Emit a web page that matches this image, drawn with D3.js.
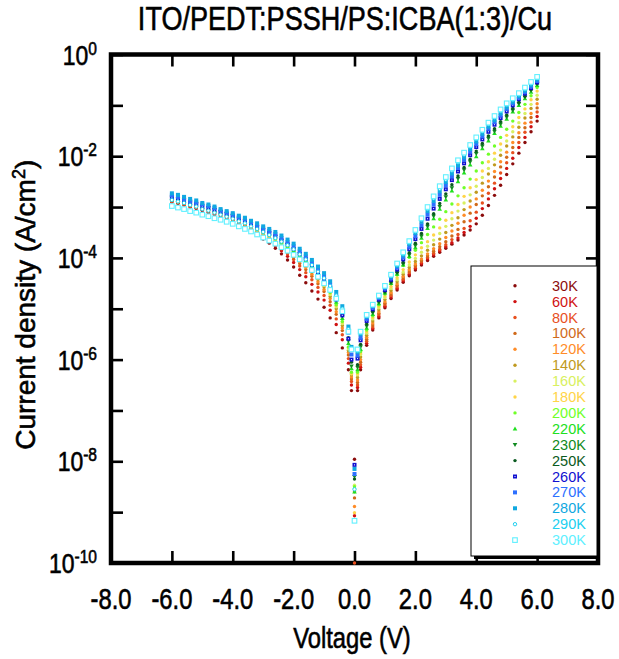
<!DOCTYPE html>
<html>
<head>
<meta charset="utf-8">
<script src="https://cdn.jsdelivr.net/npm/d3@7"></script>
<style>
  body { margin: 0; background: #fff; }
  svg text { font-family: "Liberation Sans", Arial, Helvetica, sans-serif; fill: #000; }
  svg text.label { stroke: #000; stroke-width: 0.6px; }
</style>
</head>
<body>
<svg id="chart" width="619" height="659"></svg>
<script>
// Voltage steps (V): reverse branch, zero bias, forward branch
const voltage = [
  -6.0, -5.8, -5.6, -5.4, -5.2, -5.0, -4.8, -4.6, -4.4, -4.2, -4.0, -3.8, -3.6, -3.4, -3.2,
  -3.0, -2.8, -2.6, -2.4, -2.2, -2.0, -1.8, -1.6, -1.4, -1.2, -1.0, -0.8, -0.6, -0.4, -0.2, -0.1,
  0.0,
  0.1, 0.2, 0.4, 0.6, 0.8, 1.0, 1.2, 1.4, 1.6, 1.8, 2.0, 2.2, 2.4, 2.6, 2.8,
  3.0, 3.2, 3.4, 3.6, 3.8, 4.0, 4.2, 4.4, 4.6, 4.8, 5.0, 5.2, 5.4, 5.6, 5.8, 6.0
];

const temperatures = ["30K", "60K", "80K", "100K", "120K", "140K", "160K", "180K", "200K",
  "220K", "230K", "250K", "260K", "270K", "280K", "290K", "300K"];

// log10 of current density (A/cm2), same order as voltage
const logJ_30K = [-2.90,-2.93,-2.96,-3.00,-3.03,-3.07,-3.11,-3.15,-3.20,-3.24,-3.29,-3.35,-3.41,-3.48,-3.55,-3.63,-3.71,-3.81,-3.92,-4.04,-4.18,-4.34,-4.49,-4.65,-4.81,-4.97,-5.18,-5.47,-5.77,-6.20,-6.61,
  -7.96,
  -6.61,-6.20,-5.72,-5.42,-5.18,-4.98,-4.80,-4.63,-4.48,-4.35,-4.24,-4.14,-4.05,-3.97,-3.89,-3.81,-3.73,-3.65,-3.55,-3.45,-3.33,-3.16,-2.97,-2.77,-2.57,-2.36,-2.15,-1.94,-1.73,-1.52,-1.31];
const logJ_60K = [-2.89,-2.92,-2.95,-2.99,-3.02,-3.06,-3.10,-3.14,-3.18,-3.22,-3.27,-3.33,-3.38,-3.45,-3.52,-3.59,-3.66,-3.76,-3.86,-3.97,-4.09,-4.23,-4.37,-4.52,-4.67,-4.83,-5.03,-5.31,-5.61,-6.07,-6.50,
  -9.07,
  -6.55,-6.15,-5.68,-5.39,-5.15,-4.95,-4.77,-4.60,-4.45,-4.32,-4.21,-4.11,-4.02,-3.94,-3.86,-3.78,-3.70,-3.61,-3.50,-3.38,-3.22,-3.03,-2.84,-2.64,-2.44,-2.24,-2.04,-1.83,-1.63,-1.42,-1.22];
const logJ_80K = [-2.88,-2.91,-2.94,-2.98,-3.01,-3.05,-3.09,-3.13,-3.17,-3.21,-3.26,-3.31,-3.37,-3.43,-3.50,-3.57,-3.64,-3.72,-3.82,-3.92,-4.03,-4.16,-4.29,-4.43,-4.58,-4.74,-4.93,-5.20,-5.51,-5.98,-6.43,
  -10.0,
  -6.50,-6.10,-5.64,-5.36,-5.12,-4.92,-4.74,-4.57,-4.42,-4.29,-4.18,-4.08,-3.99,-3.91,-3.83,-3.74,-3.64,-3.54,-3.42,-3.27,-3.10,-2.92,-2.73,-2.53,-2.33,-2.13,-1.93,-1.73,-1.53,-1.33,-1.13];
const logJ_100K = [-2.87,-2.90,-2.93,-2.97,-3.00,-3.04,-3.08,-3.12,-3.16,-3.20,-3.24,-3.30,-3.35,-3.42,-3.48,-3.55,-3.61,-3.69,-3.78,-3.88,-3.99,-4.11,-4.23,-4.36,-4.51,-4.66,-4.86,-5.11,-5.43,-5.91,-6.38,
  -8.72,
  -6.45,-6.05,-5.60,-5.32,-5.09,-4.89,-4.71,-4.54,-4.39,-4.26,-4.15,-4.05,-3.96,-3.87,-3.78,-3.68,-3.57,-3.44,-3.29,-3.12,-2.95,-2.78,-2.60,-2.41,-2.21,-2.02,-1.83,-1.63,-1.44,-1.24,-1.05];
const logJ_120K = [-2.87,-2.90,-2.93,-2.97,-3.00,-3.04,-3.07,-3.11,-3.15,-3.20,-3.24,-3.29,-3.34,-3.40,-3.47,-3.53,-3.60,-3.67,-3.76,-3.85,-3.96,-4.07,-4.19,-4.32,-4.47,-4.62,-4.80,-5.06,-5.38,-5.86,-6.34,
  -8.89,
  -6.40,-6.00,-5.56,-5.28,-5.06,-4.86,-4.68,-4.51,-4.36,-4.23,-4.12,-4.02,-3.92,-3.82,-3.72,-3.60,-3.47,-3.32,-3.16,-3.00,-2.84,-2.67,-2.49,-2.30,-2.11,-1.92,-1.73,-1.54,-1.35,-1.16,-0.97];
const logJ_140K = [-2.87,-2.90,-2.93,-2.97,-3.00,-3.04,-3.07,-3.11,-3.15,-3.19,-3.23,-3.28,-3.33,-3.39,-3.46,-3.52,-3.58,-3.66,-3.74,-3.83,-3.93,-4.03,-4.15,-4.28,-4.42,-4.57,-4.76,-5.00,-5.33,-5.82,-6.30,
  -8.60,
  -6.35,-5.95,-5.52,-5.24,-5.02,-4.82,-4.64,-4.47,-4.32,-4.19,-4.07,-3.96,-3.85,-3.74,-3.63,-3.50,-3.36,-3.21,-3.05,-2.88,-2.71,-2.53,-2.35,-2.17,-1.98,-1.80,-1.62,-1.43,-1.25,-1.06,-0.88];
const logJ_160K = [-2.86,-2.89,-2.92,-2.96,-2.99,-3.03,-3.06,-3.10,-3.14,-3.18,-3.22,-3.27,-3.33,-3.39,-3.45,-3.51,-3.57,-3.64,-3.72,-3.81,-3.90,-4.01,-4.12,-4.25,-4.39,-4.54,-4.72,-4.96,-5.29,-5.79,-6.28,
  -8.47,
  -6.30,-5.90,-5.48,-5.20,-4.98,-4.78,-4.60,-4.43,-4.28,-4.14,-4.01,-3.89,-3.77,-3.65,-3.52,-3.38,-3.23,-3.08,-2.92,-2.76,-2.59,-2.42,-2.24,-2.06,-1.88,-1.70,-1.52,-1.34,-1.16,-0.98,-0.80];
const logJ_180K = [-2.86,-2.89,-2.92,-2.96,-2.99,-3.03,-3.06,-3.10,-3.14,-3.18,-3.22,-3.27,-3.32,-3.38,-3.44,-3.50,-3.57,-3.63,-3.71,-3.80,-3.89,-3.99,-4.10,-4.22,-4.36,-4.51,-4.69,-4.93,-5.26,-5.76,-6.27,
  -9.01,
  -6.28,-5.87,-5.45,-5.17,-4.95,-4.75,-4.56,-4.39,-4.23,-4.08,-3.94,-3.80,-3.68,-3.55,-3.41,-3.26,-3.11,-2.95,-2.79,-2.62,-2.46,-2.29,-2.11,-1.94,-1.76,-1.59,-1.42,-1.24,-1.07,-0.89,-0.72];
const logJ_200K = [-2.86,-2.89,-2.92,-2.96,-2.99,-3.03,-3.06,-3.10,-3.14,-3.18,-3.22,-3.27,-3.32,-3.38,-3.44,-3.50,-3.56,-3.63,-3.71,-3.79,-3.88,-3.98,-4.09,-4.21,-4.35,-4.50,-4.68,-4.92,-5.25,-5.75,-6.25,
  -8.50,
  -6.25,-5.84,-5.42,-5.14,-4.92,-4.71,-4.51,-4.33,-4.15,-3.99,-3.85,-3.70,-3.54,-3.39,-3.24,-3.09,-2.94,-2.78,-2.62,-2.45,-2.29,-2.13,-1.96,-1.80,-1.63,-1.47,-1.31,-1.14,-0.98,-0.81,-0.65];
const logJ_220K = [-2.83,-2.86,-2.89,-2.93,-2.96,-3.00,-3.03,-3.07,-3.11,-3.15,-3.19,-3.24,-3.29,-3.35,-3.41,-3.47,-3.53,-3.60,-3.68,-3.76,-3.85,-3.95,-4.05,-4.17,-4.31,-4.46,-4.63,-4.87,-5.19,-5.68,-6.18,
  -8.60,
  -6.20,-5.80,-5.38,-5.11,-4.90,-4.69,-4.50,-4.32,-4.14,-3.97,-3.80,-3.61,-3.42,-3.23,-3.04,-2.86,-2.68,-2.50,-2.33,-2.17,-2.01,-1.85,-1.70,-1.55,-1.41,-1.27,-1.13,-1.00,-0.87,-0.74,-0.61];
const logJ_230K = [-2.81,-2.84,-2.87,-2.91,-2.94,-2.98,-3.01,-3.05,-3.09,-3.13,-3.17,-3.22,-3.27,-3.33,-3.39,-3.45,-3.51,-3.58,-3.66,-3.74,-3.83,-3.92,-4.03,-4.15,-4.28,-4.43,-4.60,-4.83,-5.15,-5.63,-6.13,
  -8.30,
  -6.15,-5.75,-5.34,-5.08,-4.88,-4.68,-4.49,-4.30,-4.12,-3.94,-3.76,-3.57,-3.38,-3.18,-2.99,-2.80,-2.62,-2.44,-2.27,-2.11,-1.95,-1.80,-1.65,-1.51,-1.37,-1.23,-1.10,-0.97,-0.84,-0.71,-0.58];
const logJ_250K = [-2.79,-2.82,-2.85,-2.89,-2.92,-2.96,-2.99,-3.03,-3.07,-3.11,-3.15,-3.20,-3.25,-3.31,-3.37,-3.43,-3.49,-3.55,-3.63,-3.71,-3.80,-3.89,-3.99,-4.11,-4.24,-4.38,-4.55,-4.78,-5.10,-5.57,-6.05,
  -8.35,
  -6.10,-5.70,-5.30,-5.05,-4.85,-4.66,-4.47,-4.28,-4.09,-3.90,-3.71,-3.52,-3.33,-3.13,-2.93,-2.74,-2.56,-2.39,-2.22,-2.06,-1.90,-1.75,-1.60,-1.46,-1.32,-1.19,-1.06,-0.94,-0.82,-0.69,-0.57];
const logJ_260K = [-2.81,-2.84,-2.87,-2.91,-2.94,-2.99,-3.02,-3.06,-3.10,-3.14,-3.18,-3.23,-3.28,-3.34,-3.39,-3.45,-3.51,-3.57,-3.65,-3.73,-3.82,-3.92,-4.02,-4.14,-4.28,-4.42,-4.59,-4.82,-5.13,-5.59,-6.00,
  -8.07,
  -5.98,-5.62,-5.24,-5.01,-4.82,-4.63,-4.43,-4.23,-4.03,-3.83,-3.63,-3.43,-3.23,-3.03,-2.84,-2.65,-2.47,-2.30,-2.14,-1.98,-1.82,-1.67,-1.52,-1.38,-1.25,-1.12,-1.00,-0.88,-0.77,-0.66,-0.55];
const logJ_270K = [-2.77,-2.80,-2.84,-2.88,-2.91,-2.95,-2.98,-3.02,-3.07,-3.11,-3.15,-3.20,-3.24,-3.30,-3.36,-3.42,-3.47,-3.53,-3.61,-3.69,-3.77,-3.87,-3.97,-4.09,-4.22,-4.36,-4.53,-4.75,-5.04,-5.47,-5.90,
  -8.25,
  -5.92,-5.57,-5.20,-4.98,-4.79,-4.60,-4.40,-4.19,-3.99,-3.78,-3.57,-3.36,-3.15,-2.95,-2.76,-2.57,-2.40,-2.23,-2.07,-1.91,-1.76,-1.61,-1.46,-1.33,-1.20,-1.07,-0.96,-0.85,-0.74,-0.63,-0.52];
const logJ_280K = [-2.73,-2.76,-2.80,-2.84,-2.87,-2.92,-2.95,-2.99,-3.04,-3.08,-3.12,-3.17,-3.21,-3.27,-3.32,-3.38,-3.43,-3.49,-3.56,-3.64,-3.72,-3.82,-3.92,-4.04,-4.17,-4.30,-4.46,-4.67,-4.95,-5.35,-5.75,
  -8.15,
  -5.85,-5.50,-5.16,-4.95,-4.77,-4.58,-4.37,-4.16,-3.95,-3.73,-3.51,-3.29,-3.08,-2.88,-2.69,-2.51,-2.34,-2.18,-2.02,-1.86,-1.71,-1.56,-1.42,-1.29,-1.16,-1.04,-0.93,-0.82,-0.71,-0.60,-0.49];
const logJ_290K = [-2.86,-2.89,-2.92,-2.96,-2.99,-3.04,-3.07,-3.11,-3.15,-3.19,-3.23,-3.28,-3.32,-3.38,-3.43,-3.49,-3.55,-3.61,-3.68,-3.75,-3.83,-3.93,-4.03,-4.14,-4.27,-4.40,-4.55,-4.74,-5.00,-5.40,-5.78,
  -8.55,
  -5.82,-5.47,-5.14,-4.93,-4.75,-4.56,-4.35,-4.13,-3.92,-3.70,-3.48,-3.25,-3.04,-2.83,-2.64,-2.46,-2.28,-2.12,-1.97,-1.81,-1.66,-1.51,-1.37,-1.24,-1.11,-0.99,-0.89,-0.79,-0.68,-0.57,-0.46];
const logJ_300K = [-2.98,-3.01,-3.04,-3.08,-3.11,-3.15,-3.18,-3.22,-3.25,-3.29,-3.33,-3.38,-3.43,-3.48,-3.54,-3.60,-3.66,-3.72,-3.79,-3.86,-3.94,-4.03,-4.13,-4.24,-4.37,-4.50,-4.63,-4.80,-5.05,-5.45,-5.80,
  -9.17,
  -5.80,-5.45,-5.12,-4.92,-4.74,-4.55,-4.33,-4.11,-3.89,-3.67,-3.45,-3.22,-3.00,-2.79,-2.59,-2.41,-2.24,-2.08,-1.93,-1.78,-1.63,-1.48,-1.34,-1.21,-1.08,-0.96,-0.86,-0.76,-0.65,-0.54,-0.44];

const seriesLogJ = [logJ_30K, logJ_60K, logJ_80K, logJ_100K, logJ_120K, logJ_140K, logJ_160K,
  logJ_180K, logJ_200K, logJ_220K, logJ_230K, logJ_250K, logJ_260K, logJ_270K, logJ_280K,
  logJ_290K, logJ_300K];

const colors = ["#8b0c0c", "#d01212", "#e8501e", "#d06a1a", "#ff8c28", "#c09a20", "#d8f060",
  "#ffd448", "#70ff28", "#20e020", "#108a20", "#0a5a20", "#1010d0", "#2d70ff", "#10a8e0",
  "#20d0f0", "#60f0ff"];
const shapes = ["dot", "dot", "dot", "dot", "dot", "dot", "dot", "dot", "dot",
  "triUp", "triDown", "dot", "squareDot", "square", "square", "ring", "openSquare"];

const xTicks = [-8, -6, -4, -2, 0, 2, 4, 6, 8];
const yExponents = [0, -1, -2, -3, -4, -5, -6, -7, -8, -9, -10];
const yLabelExponents = [0, -2, -4, -6, -8, -10];

const width = 619, height = 659;
const margin = {top: 54.5, right: 21, bottom: 96, left: 111};
const NARROW = 0.82;   // horizontal squeeze of the condensed lettering

const svg = d3.select("#chart");

const x = d3.scaleLinear()
    .domain([-8, 8])
    .range([margin.left, width - margin.right]);
const y = d3.scaleLog()
    .domain([1e-10, 1])
    .range([height - margin.bottom, margin.top]);

/**
 * Adds a condensed text element anchored at (px, py)
 */
function narrowText(parent, px, py, size, anchor) {
    return parent.append("text")
        .attr("class", "label")
        .attr("transform", `translate(${px}, ${py}) scale(${NARROW}, 1)`)
        .attr("text-anchor", anchor)
        .style("font-size", size + "px");
}

// Draw one marker of the given shape
function drawMarker(g, shape, cx, cy, color) {
    if (shape === "dot") {
        g.append("circle").attr("cx", cx).attr("cy", cy).attr("r", 1.7).attr("fill", color);
    } else if (shape === "ring") {
        g.append("circle").attr("cx", cx).attr("cy", cy).attr("r", 1.7)
            .attr("fill", "#fff").attr("stroke", color).attr("stroke-width", 1);
    } else if (shape === "triUp" || shape === "triDown") {
        let s = shape === "triUp" ? 1 : -1;
        g.append("path")
            .attr("d", `M${cx},${cy - 2.4 * s} L${cx + 2.3},${cy + 1.6 * s} L${cx - 2.3},${cy + 1.6 * s} Z`)
            .attr("fill", color);
    } else if (shape === "square") {
        g.append("rect").attr("x", cx - 2).attr("y", cy - 2).attr("width", 4).attr("height", 4)
            .attr("fill", color);
    } else if (shape === "squareDot") {
        g.append("rect").attr("x", cx - 2).attr("y", cy - 2).attr("width", 4).attr("height", 4)
            .attr("fill", color);
        g.append("rect").attr("x", cx - 0.5).attr("y", cy - 0.5).attr("width", 1).attr("height", 1)
            .attr("fill", "#fff");
    } else if (shape === "openSquare") {
        g.append("rect").attr("x", cx - 2.3).attr("y", cy - 2.3).attr("width", 4.6).attr("height", 4.6)
            .attr("fill", "#fff").attr("stroke", color).attr("stroke-width", 1.1);
    }
}

// Inward ticks on all four sides
function styleTicks(sel) {
    sel.select(".domain").remove();
    sel.selectAll(".tick line").attr("stroke", "#000").attr("stroke-width", 2.6);
}
svg.append("g")
    .attr("transform", `translate(0, ${height - margin.bottom})`)
    .call(d3.axisBottom(x).tickValues(xTicks).tickSize(-12).tickFormat(""))
    .call(styleTicks);
svg.append("g")
    .attr("transform", `translate(0, ${margin.top})`)
    .call(d3.axisTop(x).tickValues(xTicks).tickSize(-12).tickFormat(""))
    .call(styleTicks);
svg.append("g")
    .attr("transform", `translate(${margin.left}, 0)`)
    .call(d3.axisLeft(y).tickValues(yExponents.map(e => Math.pow(10, e))).tickSize(-12).tickFormat(""))
    .call(styleTicks);
svg.append("g")
    .attr("transform", `translate(${width - margin.right}, 0)`)
    .call(d3.axisRight(y).tickValues(yExponents.map(e => Math.pow(10, e))).tickSize(-12).tickFormat(""))
    .call(styleTicks);

// Frame
svg.append("rect")
    .attr("x", margin.left)
    .attr("y", margin.top)
    .attr("width", width - margin.left - margin.right)
    .attr("height", height - margin.top - margin.bottom)
    .attr("fill", "none")
    .attr("stroke", "#000")
    .attr("stroke-width", 4.5);

// Data points, coldest first so the warm curves sit on top
let plot = svg.append("g");
seriesLogJ.forEach(function(vals, i) {
    let g = plot.append("g").attr("class", `series-${temperatures[i]}`);
    vals.forEach(function(lj, k) {
        drawMarker(g, shapes[i], x(voltage[k]), y(Math.pow(10, lj)), colors[i]);
    });
});

// X tick labels
xTicks.forEach(function(d) {
    narrowText(svg, x(d), height - margin.bottom + 46, 29, "middle").text(d.toFixed(1));
});

// Y tick labels as powers of ten
yLabelExponents.forEach(function(d) {
    let t = narrowText(svg, 97, y(Math.pow(10, d)) + 10, 28, "end");
    t.append("tspan").text("10");
    t.append("tspan").attr("dy", -10).style("font-size", "19px").text(d);
});

// Axis titles and chart title
narrowText(svg, 352, 648, 29, "middle").text("Voltage (V)");
let yTitle = svg.append("text")
    .attr("class", "label")
    .attr("transform", `translate(35, ${(margin.top + height - margin.bottom) / 2 - 4}) rotate(-90)`)
    .attr("text-anchor", "middle")
    .style("font-size", "28px");
yTitle.append("tspan").text("Current density (A/cm");
yTitle.append("tspan").attr("dy", -10).style("font-size", "18px").text("2");
yTitle.append("tspan").attr("dy", 10).text(")");
narrowText(svg, 345, 30, 33, "middle").text("ITO/PEDT:PSSH/PS:ICBA(1:3)/Cu");

// Legend with drop shadow
let legend = svg.append("g");
legend.append("rect")
    .attr("x", 474).attr("y", 269).attr("width", 126).attr("height", 290)
    .attr("fill", "#000");
legend.append("rect")
    .attr("x", 471).attr("y", 266).attr("width", 126).attr("height", 290)
    .attr("fill", "#fff").attr("stroke", "#000").attr("stroke-width", 1);
temperatures.forEach(function(t, i) {
    let ry = 285.7 + i * 15.9;
    drawMarker(legend, shapes[i], 515, ry, colors[i]);
    legend.append("text")
        .attr("x", 552)
        .attr("y", ry + 5)
        .style("font-size", "14.5px")
        .style("fill", colors[i])
        .text(t);
});
</script>
</body>
</html>
